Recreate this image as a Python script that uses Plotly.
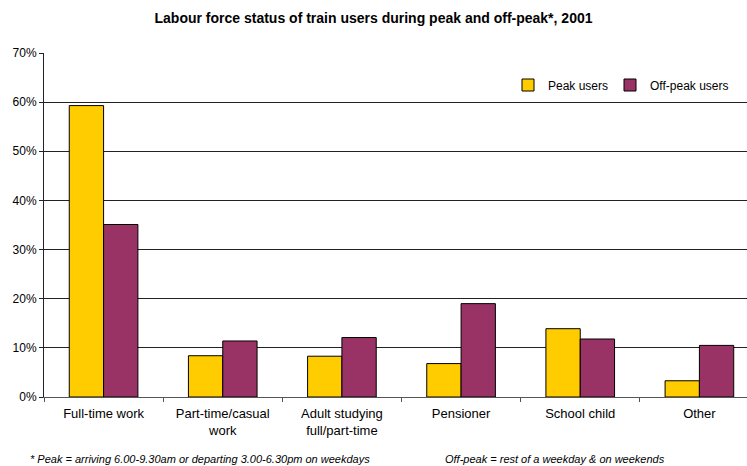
import plotly.graph_objects as go

categories = ["Full-time work", "Part-time/casual<br>work", "Adult studying<br>full/part-time",
              "Pensioner", "School child", "Other"]
peak_users = [0.593, 0.084, 0.083, 0.068, 0.139, 0.033]
offpeak_users = [0.351, 0.114, 0.121, 0.190, 0.118, 0.105]
y_ticks = [0, 0.1, 0.2, 0.3, 0.4, 0.5, 0.6, 0.7]

title_text = "<b>Labour force status of train users during peak and off-peak*, 2001</b>"
note_left = "* Peak = arriving 6.00-9.30am or departing 3.00-6.30pm on weekdays"
note_right = "Off-peak = rest of a weekday & on weekends"

W, H = 747, 466
L, R, T, B = 44, 0, 53, 69
pw = W - L - R
ph = H - T - B

fig = go.Figure()
fig.add_bar(x=categories, y=peak_users, name="Peak users", legend="legend",
            marker=dict(color="#FFCC00", line=dict(color="#000000", width=1)))
fig.add_bar(x=categories, y=offpeak_users, name="Off-peak users", legend="legend2",
            marker=dict(color="#993366", line=dict(color="#000000", width=1)))

font_family = "Liberation Sans, Arial, sans-serif"
leg_y = (397 - 85) / ph

fig.update_layout(
    width=W, height=H,
    margin=dict(l=L, r=R, t=T, b=B, pad=0, autoexpand=False),
    paper_bgcolor="white", plot_bgcolor="white",
    barmode="group", bargap=0.424, bargroupgap=0,
    font=dict(family=font_family, size=12, color="#000000"),
    title=dict(text=title_text, x=0.5, xref="container", xanchor="center",
               y=1 - 18 / H, yref="container", yanchor="middle",
               font=dict(size=14, family=font_family, color="#000000")),
    legend=dict(orientation="h", x=(508 - L) / pw, y=leg_y,
                xanchor="left", yanchor="middle", bgcolor="rgba(0,0,0,0)",
                font=dict(size=12), itemwidth=30),
    legend2=dict(orientation="h", x=(610 - L) / pw, y=leg_y,
                 xanchor="left", yanchor="middle", bgcolor="rgba(0,0,0,0)",
                 font=dict(size=12), itemwidth=30),
    xaxis=dict(range=[-0.5, 5.5 - (759 - 747) / 119.3], showgrid=False,
               showline=True, linecolor="#555555", linewidth=1,
               ticks="outside", tickson="boundaries", ticklen=4, tickcolor="#555555",
               tickfont=dict(size=13), ticklabelstandoff=4, fixedrange=True),
    yaxis=dict(range=[0, 0.7], tickvals=y_ticks, tickformat=".0%",
               showgrid=True, gridcolor="#222222", gridwidth=1,
               showline=True, linecolor="#222222", linewidth=1,
               ticks="outside", ticklen=4, tickcolor="#222222",
               tickfont=dict(size=12), zeroline=False, fixedrange=True),
    showlegend=True,
)

fig.add_annotation(text="<i>" + note_left + "</i>", xref="paper", yref="paper",
                   x=(28 - L) / pw, y=-(459 - 397) / ph, xanchor="left", yanchor="middle",
                   showarrow=False, font=dict(size=11, family=font_family))
fig.add_annotation(text="<i>" + note_right + "</i>", xref="paper", yref="paper",
                   x=(443 - L) / pw, y=-(459 - 397) / ph, xanchor="left", yanchor="middle",
                   showarrow=False, font=dict(size=11, family=font_family))

fig.write_html("out.html", config={"displayModeBar": False},
               post_script="document.body.style.margin='0';document.body.style.overflow='hidden';")
